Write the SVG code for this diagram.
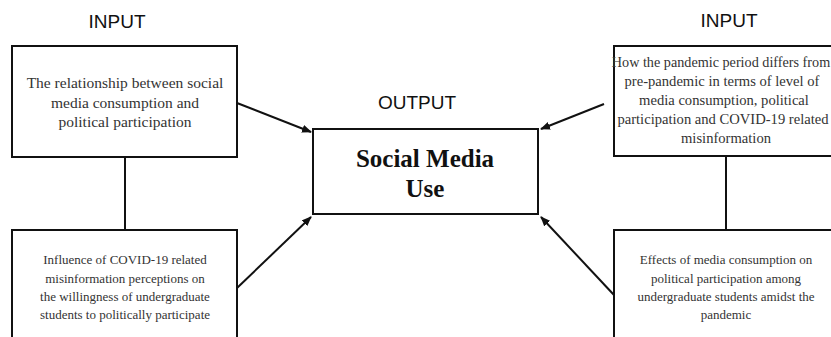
<svg xmlns="http://www.w3.org/2000/svg" width="831" height="337" viewBox="0 0 831 337">
<style>
.box{fill:#fff;stroke:#111;stroke-width:2}
.lbl{font-family:"Liberation Sans",Arial,sans-serif;font-size:19px;fill:#111;text-anchor:middle}
.t{font-family:"Liberation Serif","Times New Roman",serif;fill:#333;text-anchor:middle}
.big{font-family:"Liberation Serif","Times New Roman",serif;font-weight:bold;font-size:25px;fill:#111;text-anchor:middle}
.con{stroke:#111;stroke-width:2;fill:none}
</style>
<defs>
<marker id="ah" markerWidth="10" markerHeight="8" refX="9" refY="4" orient="auto" markerUnits="userSpaceOnUse">
<path d="M0,0 L10,4 L0,8 z" fill="#111"/>
</marker>
</defs>
<rect width="831" height="337" fill="#fff"/>
<text class="lbl" x="117" y="28">INPUT</text>
<text class="lbl" x="729" y="27">INPUT</text>
<text class="lbl" x="417" y="109">OUTPUT</text>
<g id="connectors">
<line class="con" x1="125" y1="157" x2="125" y2="230"/>
<line class="con" x1="726" y1="156" x2="726" y2="230"/>
<line class="con" x1="237" y1="103" x2="311" y2="132" marker-end="url(#ah)"/>
<line class="con" x1="237" y1="288" x2="311" y2="217" marker-end="url(#ah)"/>
<line class="con" x1="604" y1="104" x2="541" y2="129" marker-end="url(#ah)"/>
<line class="con" x1="614" y1="295" x2="541" y2="217" marker-end="url(#ah)"/>
</g>
<g id="node-top-left">
<rect class="box" x="12" y="46" width="225" height="111"/>
<text class="t" font-size="15.5" x="125" y="88">The relationship between social</text>
<text class="t" font-size="15.5" x="125" y="107.5">media consumption and</text>
<text class="t" font-size="15.5" x="125" y="127">political participation</text>
</g>
<g id="node-top-right">
<rect class="box" x="614" y="46" width="226" height="110"/>
<text class="t" font-size="14.2" x="721" y="67">How the pandemic period differs from</text>
<text class="t" font-size="14.6" x="722" y="86">pre-pandemic in terms of level of</text>
<text class="t" font-size="14.6" x="724" y="105">media consumption, political</text>
<text class="t" font-size="14.6" x="723" y="124">participation and COVID-19 related</text>
<text class="t" font-size="14.6" x="726" y="143">misinformation</text>
</g>
<g id="node-center">
<rect class="box" x="313" y="129" width="225" height="85"/>
<text class="big" x="425" y="167">Social Media</text>
<text class="big" x="425" y="197">Use</text>
</g>
<g id="node-bottom-left">
<rect class="box" x="12" y="230" width="225" height="120"/>
<text class="t" font-size="13" x="125" y="264">Influence of COVID-19 related</text>
<text class="t" font-size="13" x="125" y="282.5">misinformation perceptions on</text>
<text class="t" font-size="13" x="125" y="301">the willingness of undergraduate</text>
<text class="t" font-size="13" x="125" y="319">students to politically participate</text>
</g>
<g id="node-bottom-right">
<rect class="box" x="614" y="230" width="226" height="120"/>
<text class="t" font-size="13" x="726" y="264">Effects of media consumption on</text>
<text class="t" font-size="13" x="726" y="282.5">political participation among</text>
<text class="t" font-size="13" x="726" y="301">undergraduate students amidst the</text>
<text class="t" font-size="13" x="726" y="319">pandemic</text>
</g>
</svg>
